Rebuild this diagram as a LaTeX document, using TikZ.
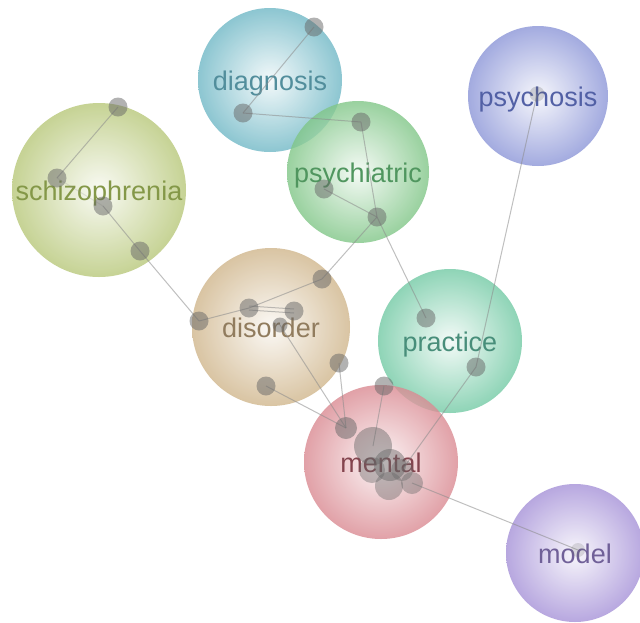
\documentclass[tikz,border=0pt]{standalone}
\usepackage{fontspec}
\setmainfont{Liberation Sans}
\pgfdeclarelayer{bg}
\pgfdeclarelayer{edges}
\pgfsetlayers{bg,edges,main}
\definecolor{diagC}{RGB}{112,184,198}
\definecolor{diagT}{RGB}{82,142,156}
\definecolor{psyaC}{RGB}{128,198,135}
\definecolor{psyaT}{RGB}{80,150,95}
\definecolor{psysC}{RGB}{140,150,216}
\definecolor{psysT}{RGB}{82,96,165}
\definecolor{schC}{RGB}{184,200,122}
\definecolor{schT}{RGB}{132,152,72}
\definecolor{disC}{RGB}{208,182,140}
\definecolor{disT}{RGB}{145,124,94}
\definecolor{praC}{RGB}{115,202,165}
\definecolor{praT}{RGB}{72,142,122}
\definecolor{menC}{RGB}{218,138,146}
\definecolor{menT}{RGB}{132,68,78}
\definecolor{modC}{RGB}{166,146,216}
\definecolor{modT}{RGB}{112,96,152}
\tikzset{
  topic/.style n args={3}{circle, inner sep=0pt, minimum size=#1,
    inner color=#2!10, outer color=#2, fill opacity=0.8, text opacity=1,
    text=#3, font=\fontsize{27}{30}\selectfont, text height=21pt, text depth=0pt},
  dot/.style={circle, inner sep=0pt, minimum size=#1, fill=black!60, fill opacity=0.5},
  dot/.default=19pt,
  link/.style={draw=black!45, line width=1pt, draw opacity=0.55},
}
\begin{document}
\begin{tikzpicture}[x=1pt,y=-1pt]
\useasboundingbox (0,0) rectangle (640,622);
\begin{pgfonlayer}{bg}
\fill[white] (0,0) rectangle (640,622);
\node[topic={144pt}{diagC}{diagT}] (diag) at (270,80) {diagnosis};
\node[topic={140pt}{psysC}{psysT}] (psys) at (538,96) {psychosis};
\node[topic={174pt}{schC}{schT}] (schi) at (99,190) {schizophrenia};
\node[topic={142pt}{psyaC}{psyaT}] (psya) at (358,172) {psychiatric};
\node[topic={158pt}{disC}{disT}] (diso) at (271,327) {disorder};
\node[topic={144pt}{praC}{praT}] (prac) at (450,341) {practice};
\node[topic={154pt}{menC}{menT}] (ment) at (381,462) {mental};
\node[topic={138pt}{modC}{modT}] (mode) at (575,553) {model};
\end{pgfonlayer}
% small nodes
\node[dot] (d1) at (314,27) {};
\node[dot] (d2) at (243,113) {};
\node[dot] (p1) at (361,122) {};
\node[dot] (p2) at (324,189) {};
\node[dot] (p3) at (377,217) {};
\node[dot=15pt, fill opacity=0.25] (y1) at (537,94) {};
\node[dot] (s1) at (118,107) {};
\node[dot] (s2) at (57,178) {};
\node[dot] (s3) at (103,206) {};
\node[dot] (s4) at (140,251) {};
\node[dot] (s5) at (199,321) {};
\node[dot] (o1) at (322,279) {};
\node[dot] (o2) at (249,308) {};
\node[dot] (o3) at (294,311) {};
\node[dot=15pt] (o4) at (280,325) {};
\node[dot] (o5) at (339,363) {};
\node[dot] (o6) at (266,386) {};
\node[dot] (r1) at (426,318) {};
\node[dot] (r2) at (476,367) {};
\node[dot] (e1) at (384,386) {};
\node[dot=22pt] (m1) at (346,428) {};
\node[dot=38pt, fill opacity=0.45] (m2) at (373,446) {};
\node[dot=32pt, fill opacity=0.45] (m3) at (390,465) {};
\node[dot=26pt, fill opacity=0.4] (m5) at (372,470) {};
\node[dot=28pt, fill opacity=0.4] (m6) at (389,486) {};
\node[dot=22pt, fill opacity=0.4] (m4) at (412,483) {};
\node[dot=22pt, fill opacity=0.4] (m7) at (402,470) {};
\node[dot=14pt, fill opacity=0.2] (l1) at (578,550) {};
% connectors
\begin{pgfonlayer}{edges}
\draw[link] (d1.center) -- (d2.center);
\draw[link] (d2.center) -- (p1.center);
\draw[link] (p1.center) -- (p3.center);
\draw[link] (p2.center) -- (p3.center);
\draw[link] (p3.center) -- (o1.center);
\draw[link] (p3.center) -- (r1.center);
\draw[link] (o1.center) -- (o2.center);
\draw[link] ([yshift=-2pt]o2.center) -- ([yshift=-2pt]o3.center);
\draw[link] ([yshift=2pt]o2.center) -- ([yshift=2pt]o3.center);
\draw[link] (o2.center) -- (s5.center);
\draw[link] (s5.center) -- (s4.center);
\draw[link] (s4.center) -- (s3.center);
\draw[link, draw opacity=0.2] (s3.center) -- (s2.center);
\draw[link] (s2.center) -- (s1.center);
\draw[link] (o4.center) -- (m1.center);
\draw[link] (o5.center) -- (m1.center);
\draw[link] (o6.center) -- (m1.center);
\draw[link] (e1.center) -- (m2.center);
\draw[link] (r2.center) -- (m7.center);
\draw[link] (r2.center) -- (y1.center);
\draw[link] (m4.center) -- (l1.center);
\end{pgfonlayer}
\end{tikzpicture}
\end{document}
